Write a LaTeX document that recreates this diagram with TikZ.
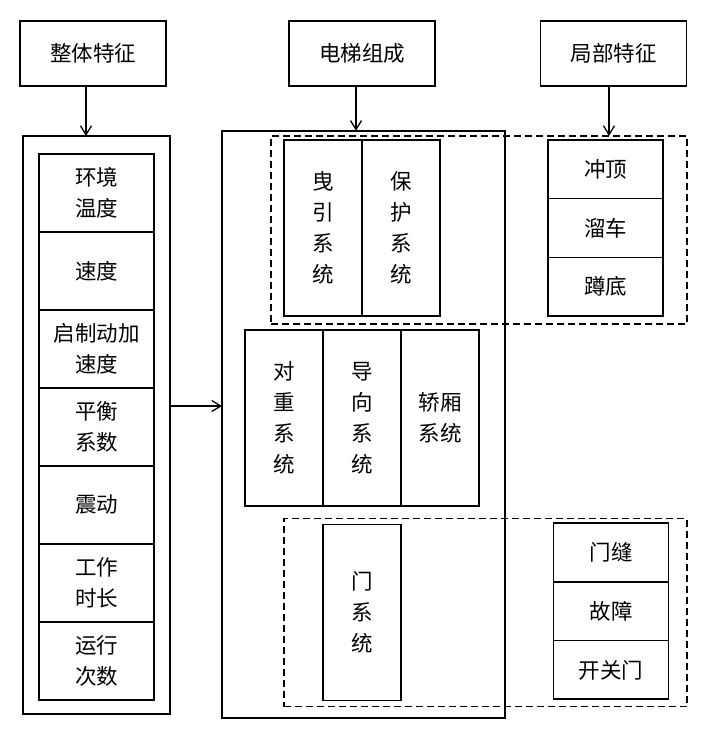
\documentclass[tikz,border=0pt]{standalone}
\usepackage{fontspec}
\newfontfamily\cjk{Noto Sans CJK SC}
\usetikzlibrary{arrows.meta,positioning}

\begin{document}
\begin{tikzpicture}[x=1pt,y=-1pt,
  box/.style={draw,line width=1.6pt,inner sep=0pt,outer sep=0pt,align=center,
    font=\cjk\fontsize{21.5}{31}\selectfont},
  head/.style={box,minimum width=146pt,minimum height=65pt},
  cell/.style={box,minimum width=115pt,minimum height=78pt},
  part/.style={box,minimum width=78pt,minimum height=176pt},
  fault/.style={box,minimum width=115pt,minimum height=58.7pt},
  frame/.style={draw,line width=1.5pt,outer sep=0pt},
  dframe/.style={frame,dash pattern=on 7pt off 4pt},
  arr/.style={-{Straight Barb[length=9pt,width=11pt]},line width=1.3pt}
]
\useasboundingbox (0,0) rectangle (712,739);

% headings
\node[head] (whole) at (93,53.5) {整体特征};
\node[head] (parts) at (362,53.5) {电梯组成};
\node[head] (local) at (613.5,53.5) {局部特征};

% frames
\node[frame,minimum width=147pt,minimum height=578pt] (wholebox) at (96.5,425) {};
\node[frame,minimum width=283pt,minimum height=587pt] (partsbox) at (363.5,424.3) {};
\node[dframe,minimum width=416pt,minimum height=188pt] (topgrp) at (479,230) {};
\node[dframe,minimum width=403pt,minimum height=188pt] (doorgrp) at (485.5,612.5) {};

% whole features
\node[cell] (temp) at (96.5,193) {环境\\温度};
\node[cell,below=0pt of temp] (speed) {速度};
\node[cell,below=0pt of speed] (accel) {启制动加\\速度};
\node[cell,below=0pt of accel] (balance) {平衡\\系数};
\node[cell,below=0pt of balance] (shake) {震动};
\node[cell,below=0pt of shake] (hours) {工作\\时长};
\node[cell,below=0pt of hours] (runs) {运行\\次数};

% elevator parts
\node[part] (traction) at (323,228) {曳\\引\\系\\统};
\node[part,right=0pt of traction] (safety) {保\\护\\系\\统};
\node[part] (weight) at (284.2,418) {对\\重\\系\\统};
\node[part,right=0pt of weight] (guide) {导\\向\\系\\统};
\node[part,right=0pt of guide] (car) {轿厢\\系统};
\node[part] (door) at (362.2,612.3) {门\\系\\统};

% local features
\node[fault] (over) at (605.7,169.3) {冲顶};
\node[fault,below=0pt of over] (slip) {溜车};
\node[fault,below=0pt of slip] (squat) {蹲底};
\node[fault] (gap) at (611,552.5) {门缝};
\node[fault,below=0pt of gap] (fail) {故障};
\node[fault,below=0pt of fail] (open) {开关门};

% arrows
\draw[arr] ([xshift=-7pt]whole.south) -- ([xshift=-7pt]whole.south |- wholebox.north);
\draw[arr] ([xshift=-6pt]parts.south) -- ([xshift=-6pt]parts.south |- partsbox.north);
\draw[arr] ([xshift=-4.5pt]local.south) -- ([xshift=-4.5pt]local.south |- topgrp.north);
\draw[arr] ([yshift=19pt]wholebox.east) -- ([yshift=19pt]wholebox.east -| partsbox.west);
\end{tikzpicture}
\end{document}
